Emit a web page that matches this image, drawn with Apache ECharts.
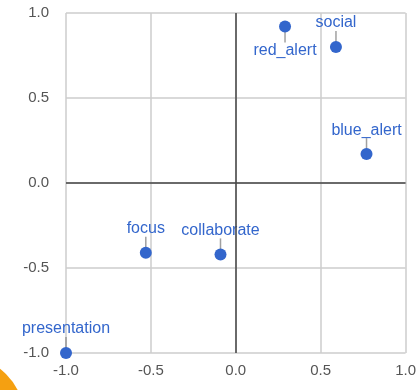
<!DOCTYPE html>
<html>
<head>
<meta charset="utf-8">
<script src="https://cdn.jsdelivr.net/npm/echarts@6/dist/echarts.min.js"></script>
<style>
  html, body { margin: 0; padding: 0; background: #fff; }
  #chart { width: 419px; height: 390px; }
</style>
</head>
<body>
<div id="chart"></div>
<script>
// Point names and coordinates
const names = ['red_alert', 'social', 'blue_alert', 'focus', 'collaborate', 'presentation'];
const xValues = [0.29, 0.59, 0.77, -0.53, -0.09, -1.0];
const yValues = [0.92, 0.80, 0.17, -0.41, -0.42, -1.0];
// Which side of the point each label sits on
const labelSides = ['bottom', 'top', 'top', 'top', 'top', 'top'];
const axisTicks = [-1.0, -0.5, 0.0, 0.5, 1.0];

const BLUE = '#3366cc';
const FONT = 'Arial, "Liberation Sans", sans-serif';

const points = names.map((n, i) => ({
  name: n,
  value: [xValues[i], yValues[i]],
  label: { position: labelSides[i] }
}));

const pins = names.map((n, i) => ({
  name: n,
  value: [xValues[i], yValues[i]],
  symbolOffset: [0, labelSides[i] === 'top' ? -8 : 8]
}));

const chart = echarts.init(document.getElementById('chart'), null, { renderer: 'canvas' });

const axisCommon = {
  type: 'value',
  min: axisTicks[0],
  max: axisTicks[axisTicks.length - 1],
  interval: 0.5,
  axisLine: { show: false },
  axisTick: { show: false },
  splitLine: { show: true, lineStyle: { color: '#cccccc', width: 1.5 } },
  axisLabel: {
    color: '#555',
    fontSize: 15,
    fontFamily: FONT,
    formatter: v => v.toFixed(1)
  }
};

chart.setOption({
  animation: false,
  backgroundColor: '#ffffff',
  grid: { left: 66, right: 13, top: 13, bottom: 37 },
  xAxis: Object.assign({}, axisCommon, {
    axisLabel: Object.assign({}, axisCommon.axisLabel, { margin: 10 })
  }),
  yAxis: Object.assign({}, axisCommon, {
    axisLabel: Object.assign({}, axisCommon.axisLabel, { margin: 17 })
  }),
  graphic: [{
    type: 'circle',
    shape: { cx: -40, cy: 420, r: 65 },
    style: { fill: '#f5a011' },
    z: 100
  }],
  series: [
    {
      // zero lines through the origin
      type: 'scatter',
      data: [],
      silent: true,
      markLine: {
        silent: true,
        symbol: 'none',
        label: { show: false },
        lineStyle: { color: '#444', width: 1.5, type: 'solid' },
        data: [{ xAxis: 0 }, { yAxis: 0 }]
      },
      z: 1
    },
    {
      // leader lines joining each point to its label
      type: 'scatter',
      data: pins,
      symbol: 'rect',
      symbolSize: [1.5, 16],
      itemStyle: { color: '#888' },
      silent: true,
      z: 2
    },
    {
      type: 'scatter',
      data: points,
      symbolSize: 12,
      itemStyle: { color: BLUE, opacity: 1 },
      label: {
        show: true,
        formatter: p => p.name,
        color: BLUE,
        fontSize: 16,
        fontFamily: FONT,
        distance: 10
      },
      z: 3
    }
  ]
});
</script>
</body>
</html>
